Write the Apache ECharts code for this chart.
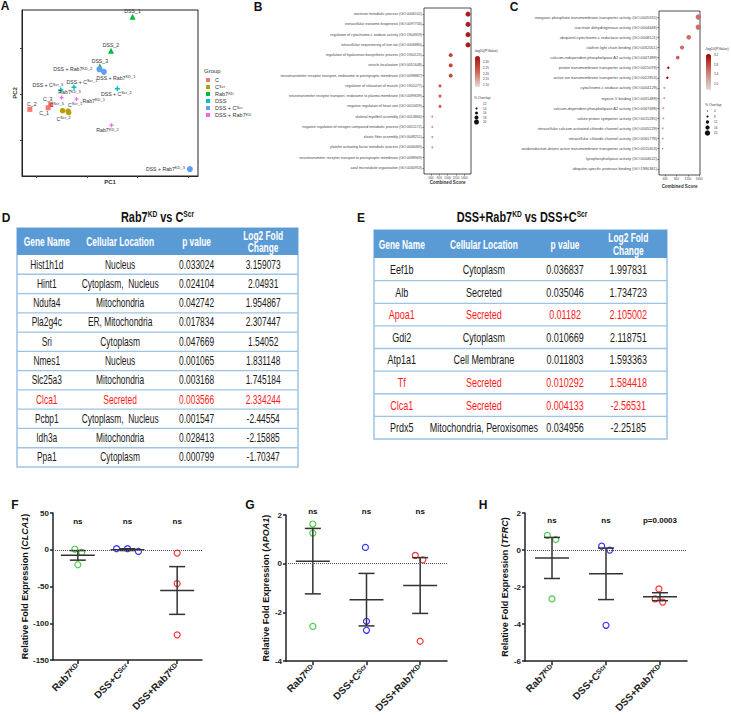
<!DOCTYPE html>
<html><head><meta charset="utf-8"><title>Rab7 figure</title>
<script src="https://cdn.jsdelivr.net/npm/echarts@6.0.0/dist/echarts.min.js"></script>
<style>html,body{margin:0;padding:0;background:#fff;}#chart{width:731px;height:715px;}</style>
</head><body><div id="chart"></div>
<script>
// ================= DATA =================
// ---- Panel A : PCA ----
const pcaGroups = ['C', 'C^Scr', 'Rab7^KD', 'DSS', 'DSS + C^Scr', 'DSS + Rab7^KD'];
const pcaC_labels = ['C_1', 'C_2', 'C_3'];
const pcaC_pc1 = [-15.3, -22.5, -14.3];
const pcaC_pc2 = [-6.0, -6.7, -4.5];
const pcaCScr_labels = ['C^Scr_1', 'C^Scr_2', 'C^Scr_3'];
const pcaCScr_pc1 = [-7.4, -7.2, -9.6];
const pcaCScr_pc2 = [-7.5, -8.1, -7.3];
const pcaRab7_labels = ['DSS_1', 'DSS_2', 'DSS_3'];
const pcaRab7_pc1 = [18.0, 9.5, 5.1];
const pcaRab7_pc2 = [33.6, 18.8, 11.9];
const pcaDSS_labels = ['DSS + C^Scr_1', 'DSS + C^Scr_2', 'DSS + C^Scr_3'];
const pcaDSS_pc1 = [-5.1, 12.0, -10.3];
const pcaDSS_pc2 = [2.9, 2.2, 1.7];
const pcaDSSCScr_labels = ['DSS + Rab7^KD_1', 'DSS + Rab7^KD_2', 'DSS + Rab7^KD_3'];
const pcaDSSCScr_pc1 = [6.7, 4.9, 40.6];
const pcaDSSCScr_pc2 = [9.6, 10.7, -32.7];
const pcaDSSRab7_labels = ['Rab7^KD_1', 'Rab7^KD_2', 'Rab7^KD_3'];
const pcaDSSRab7_pc1 = [-4.1, 9.7, -10.0];
const pcaDSSRab7_pc2 = [-2.2, -13.6, -1.6];
const pcaTicksX = [-20, 0, 20, 40];
const pcaTicksY = [-20, 0, 20];

// ---- Panel B : GO biological process ----
const goBP_terms = [
  'isocitrate metabolic process (GO:0006102)',
  'extracellular exosome biogenesis (GO:0097734)',
  'regulation of cytochrome-c oxidase activity (GO:1904959)',
  'intracellular sequestering of iron ion (GO:0006880)',
  'regulation of hyaluronan biosynthetic process (GO:1900125)',
  'vesicle localization (GO:0051648)',
  'neurotransmitter receptor transport, endosome to postsynaptic membrane (GO:0098887)',
  'regulation of relaxation of muscle (GO:1901077)',
  'neurotransmitter receptor transport, endosome to plasma membrane (GO:0099639)',
  'negative regulation of heart rate (GO:0010459)',
  'skeletal myofibril assembly (GO:0014866)',
  'negative regulation of nitrogen compound metabolic process (GO:0051172)',
  'elastic fiber assembly (GO:0048251)',
  'platelet activating factor metabolic process (GO:0046469)',
  'neurotransmitter receptor transport to postsynaptic membrane (GO:0098969)',
  'axial microtubule organization (GO:0030953)'
];
const goBP_score = [1488, 1488, 1488, 1488, 1073, 1073, 1073, 816, 816, 816, 631, 631, 631, 631, 456, 456];
const goBP_logp = [2.33, 2.33, 2.33, 2.33, 2.26, 2.26, 2.26, 2.22, 2.22, 2.22, 2.16, 2.16, 2.16, 2.16, 2.09, 2.09];
const goBP_overlap = [20, 20, 20, 20, 18, 18, 18, 16, 16, 16, 14, 14, 14, 14, 12, 12];
const goBP_xTicks = [600, 800, 1000, 1200, 1400];
const goBP_logpTicks = [2.30, 2.25, 2.20, 2.15, 2.10];
const goBP_overlapTicks = [12, 14, 16, 18, 20];

// ---- Panel C : GO molecular function ----
const goMF_terms = [
  'inorganic phosphate transmembrane transporter activity (GO:0005315)',
  'isocitrate dehydrogenase activity (GO:0004448)',
  'ubiquinol-cytochrome-c reductase activity (GO:0008121)',
  'clathrin light chain binding (GO:0032051)',
  'calcium-independent phospholipase A2 activity (GO:0047499)',
  'proton transmembrane transporter activity (GO:0015078)',
  'active ion transmembrane transporter activity (GO:0022853)',
  'cytochrome-c oxidase activity (GO:0004129)',
  'myosin V binding (GO:0031489)',
  'calcium-dependent phospholipase A2 activity (GO:0047498)',
  'solute:proton symporter activity (GO:0015295)',
  'intracellular calcium activated chloride channel activity (GO:0005229)',
  'intracellular chloride channel activity (GO:0061778)',
  'oxidoreduction-driven active transmembrane transporter activity (GO:0015453)',
  'lysophospholipase activity (GO:0004622)',
  'ubiquitin-specific protease binding (GO:1990381)'
];
const goMF_score = [1569, 1569, 1232, 997, 846, 516, 481, 375, 375, 341, 341, 319, 319, 319, 225, 225];
const goMF_logp = [2.55, 2.55, 2.55, 2.6, 2.65, 3.2, 3.2, 2.2, 2.2, 2.2, 2.2, 2.2, 2.2, 3.0, 1.9, 1.9];
const goMF_overlap = [20, 20, 17, 15, 14, 9, 9, 7, 7, 7, 7, 7, 7, 4, 2, 2];
const goMF_xTicks = [400, 800, 1200, 1600];
const goMF_logpTicks = [3.2, 2.8, 2.4, 2.0];
const goMF_overlapTicks = [4, 8, 12, 16, 20];

// ---- Panel D : table ----
const tableHeaders = ['Gene Name', 'Cellular Location', 'p value', 'Log2 Fold\nChange'];
const tableD_gene = ['Hist1h1d', 'Hint1', 'Ndufa4', 'Pla2g4c', 'Sri', 'Nmes1', 'Slc25a3', 'Clca1', 'Pcbp1', 'Idh3a', 'Ppa1'];
const tableD_location = ['Nucleus', 'Cytoplasm,  Nucleus', 'Mitochondria', 'ER, Mitochondria', 'Cytoplasm', 'Nucleus', 'Mitochondria', 'Secreted', 'Cytoplasm,  Nucleus', 'Mitochondria', 'Cytoplasm'];
const tableD_p = ['0.033024', '0.024104', '0.042742', '0.017834', '0.047669', '0.001065', '0.003168', '0.003566', '0.001547', '0.028413', '0.000799'];
const tableD_lfc = ['3.159073', '2.04931', '1.954867', '2.307447', '1.54052', '1.831148', '1.745184', '2.334244', '-2.44554', '-2.15885', '-1.70347'];
const tableD_highlight = [7];

// ---- Panel E : table ----
const tableE_gene = ['Eef1b', 'Alb', 'Apoa1', 'Gdi2', 'Atp1a1', 'Tf', 'Clca1', 'Prdx5'];
const tableE_location = ['Cytoplasm', 'Secreted', 'Secreted', 'Cytoplasm', 'Cell Membrane', 'Secreted', 'Secreted', 'Mitochondria, Peroxisomes'];
const tableE_p = ['0.036837', '0.035046', '0.01182', '0.010669', '0.011803', '0.010292', '0.004133', '0.034956'];
const tableE_lfc = ['1.997831', '1.734723', '2.105002', '2.118751', '1.593363', '1.584418', '-2.56531', '-2.25185'];
const tableE_highlight = [2, 5, 6];

// ---- Panels F, G, H : qPCR ----
const qCats = ['Rab7^KD', 'DSS+C^Scr', 'DSS+Rab7^KD'];
const F_rab7kd = [1.0, -3.5, -20.4];
const F_dssCscr = [1.4, 1.4, -2.3];
const F_dssRab7kd = [-4.5, -46.0, -115.8];
const F_jitter = [[-0.06, 0.08, 0], [-0.22, 0, 0.22], [0, 0, 0]];
const F_sig = ['ns', 'ns', 'ns'];
const G_rab7kd = [1.63, 1.26, -2.57];
const G_dssCscr = [0.67, -2.36, -2.73];
const G_dssRab7kd = [0.34, 0.16, -3.18];
const G_jitter = [[0, 0, 0], [-0.02, 0, 0], [-0.09, 0.05, 0]];
const G_sig = ['ns', 'ns', 'ns'];
const H_rab7kd = [0.79, 0.57, -2.64];
const H_dssCscr = [0.21, 0.0, -4.06];
const H_dssRab7kd = [-2.10, -2.64, -2.81];
const H_jitter = [[-0.085, 0.07, 0], [-0.08, 0.07, 0], [-0.02, -0.09, 0.05]];
const H_sig = ['ns', 'ns', 'p=0.0003'];

// ================= BUILD =================
const FONT = "'Liberation Sans', Arial, Helvetica, sans-serif";
const sup = t => t.replace(/\^(\S+)/g, '{s|$1}');
const chart = echarts.init(document.getElementById('chart'), null, { renderer: 'svg', width: 731, height: 715 });

const grids = [
  { left: 22, top: 10, width: 176, height: 166, show: true, borderColor: '#222', borderWidth: 1 },   // A
  { left: 424, top: 8, width: 47, height: 166, show: true, borderColor: '#222', borderWidth: 0.8 },  // B
  { left: 659, top: 11, width: 41, height: 164, show: true, borderColor: '#222', borderWidth: 0.8 }, // C
  { left: 17, top: 228, width: 281, height: 239, show: true, borderColor: '#9dc3e6', borderWidth: 1.5 }, // D
  { left: 374, top: 230, width: 293, height: 209, show: true, borderColor: '#9dc3e6', borderWidth: 1.5 }, // E
  { left: 53, top: 513, width: 149, height: 147 },  // F
  { left: 286, top: 515, width: 161, height: 147 }, // G
  { left: 525, top: 513, width: 162, height: 149 }  // H
];

const xAxes = [], yAxes = [], series = [], graphics = [];

// ---------- Panel A ----------
xAxes.push({ type: 'value', gridIndex: 0, min: -25.6, max: 43.8, splitLine: { show: false },
  axisLine: { show: true, onZero: false, lineStyle: { color: '#222', width: 1 } },
  axisTick: { show: true, customValues: pcaTicksX, length: 2, lineStyle: { color: '#444' } },
  axisLabel: { show: false },
  name: 'PC1', nameLocation: 'middle', nameGap: 3,
  nameTextStyle: { fontSize: 6, fontWeight: 'bold', color: '#333', fontFamily: FONT, verticalAlign: 'top' } });
yAxes.push({ type: 'value', gridIndex: 0, min: -35.7, max: 36.5, splitLine: { show: false },
  axisLine: { show: true, onZero: false, lineStyle: { color: '#222', width: 1 } },
  axisTick: { show: true, customValues: pcaTicksY, length: 2, lineStyle: { color: '#444' } },
  axisLabel: { show: false },
  name: 'PC2', nameLocation: 'middle', nameGap: 4,
  nameTextStyle: { fontSize: 6, fontWeight: 'bold', color: '#333', fontFamily: FONT } });

const pcaSets = [
  [pcaC_pc1, pcaC_pc2, pcaC_labels],
  [pcaCScr_pc1, pcaCScr_pc2, pcaCScr_labels],
  [pcaRab7_pc1, pcaRab7_pc2, pcaRab7_labels],
  [pcaDSS_pc1, pcaDSS_pc2, pcaDSS_labels],
  [pcaDSSCScr_pc1, pcaDSSCScr_pc2, pcaDSSCScr_labels],
  [pcaDSSRab7_pc1, pcaDSSRab7_pc2, pcaDSSRab7_labels]
];
const pcaColors = ['#F8766D', '#B79F00', '#00BA38', '#00BFC4', '#619CFF', '#F564E3'];
const plusPath = 'path://M3.5,0H6.5V3.5H10V6.5H6.5V10H3.5V6.5H0V3.5H3.5Z';
const pcaSymbols = ['rect', 'circle', 'triangle', plusPath, 'circle', plusPath];
const pcaSizes = [5, 5.5, 6, 5, 6, 4];
const pcaLabelPlace = {
  'C_1': ['bottom', -4, -1], 'C_2': ['top', 2, 1], 'C_3': ['top', -3, 1],
  'C^Scr_1': ['top', 7, 1], 'C^Scr_2': ['bottom', -5, -1], 'C^Scr_3': ['top', -6, 1],
  'DSS_1': ['top', 0, 2], 'DSS_2': ['top', 0, 2], 'DSS_3': ['top', 0, 2],
  'DSS + C^Scr_1': ['top', 8, 1], 'DSS + C^Scr_2': ['bottom', -1, -2], 'DSS + C^Scr_3': ['top', -13, 2],
  'DSS + Rab7^KD_1': ['bottom', 12, -1], 'DSS + Rab7^KD_2': ['left', -3, 0], 'DSS + Rab7^KD_3': ['left', -1, 0],
  'Rab7^KD_1': ['right', 3, 2], 'Rab7^KD_2': ['bottom', -4, -1], 'Rab7^KD_3': ['top', 8, 1]
};
const smallRich = { s: { fontSize: 4, verticalAlign: 'top', lineHeight: 4, fontFamily: FONT, color: '#333' } };
pcaSets.forEach((set, g) => {
  const [xs, ys, labs] = set;
  series.push({
    type: 'scatter', name: pcaGroups[g], xAxisIndex: 0, yAxisIndex: 0,
    symbol: pcaSymbols[g], symbolSize: pcaSizes[g], itemStyle: { color: pcaColors[g], opacity: 1 },
    data: xs.map((x, i) => {
      const pl = pcaLabelPlace[labs[i]] || ['top', 0, 0];
      return { name: labs[i], value: [x, ys[i]], label: { position: pl[0], offset: [pl[1], pl[2]] } };
    }),
    label: { show: true, distance: 1, fontSize: 5.2, lineHeight: 6.5, color: '#333', fontFamily: FONT,
      formatter: p => sup(p.name), rich: smallRich },
    z: 3
  });
});

// ---------- Panels B & C (GO dot plots) ----------
const sizeB = ov => (ov - 10) / 2;
const sizeC = ov => ov * 0.27;
function goAxes(gi, terms, xmin, xmax, xticks, labelSize, nameGap) {
  xAxes.push({ type: 'value', gridIndex: gi, min: xmin, max: xmax, splitLine: { show: false },
    axisLine: { show: false, onZero: false },
    axisTick: { show: true, customValues: xticks, length: 1.5, lineStyle: { color: '#333', width: 0.6 } },
    axisLabel: { customValues: xticks, formatter: v => String(v), fontSize: 3, color: '#444', margin: 2, fontFamily: FONT },
    name: 'Combined Score', nameLocation: 'middle', nameGap: nameGap,
    nameTextStyle: { fontSize: 4.5, fontWeight: 'bold', color: '#333', fontFamily: FONT } });
  const idx = terms.map((t, i) => i);
  yAxes.push({ type: 'value', gridIndex: gi, min: -0.6, max: terms.length - 0.4, inverse: true,
    splitLine: { show: false }, axisLine: { show: false, onZero: false },
    axisTick: { show: true, customValues: idx, length: 1.5, lineStyle: { color: '#333', width: 0.6 } },
    axisLabel: { customValues: idx, formatter: v => terms[v], fontSize: labelSize, color: '#444', margin: 2, fontFamily: FONT } });
}
goAxes(1, goBP_terms, 432, 1560, goBP_xTicks, 3.6, 6);
goAxes(2, goMF_terms, 189, 1628, goMF_xTicks, 3.9, 9);
const idxB = series.length;
series.push({ type: 'scatter', xAxisIndex: 1, yAxisIndex: 1,
  data: goBP_terms.map((t, i) => [goBP_score[i], i, goBP_logp[i], goBP_overlap[i]]),
  symbolSize: v => sizeB(v[3]), itemStyle: { opacity: 1 } });
const idxC = series.length;
series.push({ type: 'scatter', xAxisIndex: 2, yAxisIndex: 2,
  data: goMF_terms.map((t, i) => [goMF_score[i], i, goMF_logp[i], goMF_overlap[i]]),
  symbolSize: v => sizeC(v[3]), itemStyle: { opacity: 1 } });

const vmB = { left: 475, top: 56, w: 5, h: 31, min: 2.08, max: 2.35 };
const vmC = { left: 706, top: 54, w: 5, h: 36, min: 1.75, max: 3.22 };
const gradB = ['#e2e2e2', '#d06050', '#a50f15'];
const gradC = ['#dddddd', '#cf7a70', '#a80000'];
const visualMaps = [
  { type: 'continuous', seriesIndex: idxB, dimension: 2, min: vmB.min, max: vmB.max, inRange: { color: gradB },
    left: vmB.left, top: vmB.top, itemWidth: vmB.w, itemHeight: vmB.h, padding: 0, calculable: false, hoverLink: false, text: null,
    textStyle: { fontSize: 0.1, color: 'rgba(0,0,0,0)' } },
  { type: 'continuous', seriesIndex: idxC, dimension: 2, min: vmC.min, max: vmC.max, inRange: { color: gradC },
    left: vmC.left, top: vmC.top, itemWidth: vmC.w, itemHeight: vmC.h, padding: 0, calculable: false, hoverLink: false, text: null,
    textStyle: { fontSize: 0.1, color: 'rgba(0,0,0,0)' } }
];
function goLegend(vm, ticks, ovTicks, sizeFn, ovTop, ovStep, decimals) {
  const tx = { fontSize: 3.5, fill: '#333', fontFamily: FONT };
  graphics.push({ type: 'text', x: vm.left - 1, y: vm.top - 5, style: Object.assign({ text: '-log10(P.Value)', verticalAlign: 'middle' }, tx) });
  ticks.forEach(v => {
    const y = vm.top + (vm.max - v) / (vm.max - vm.min) * vm.h;
    graphics.push({ type: 'text', x: vm.left + vm.w + 3, y, style: Object.assign({ text: v.toFixed(decimals), verticalAlign: 'middle' }, tx, { fontSize: 3 }) });
    graphics.push({ type: 'line', shape: { x1: vm.left, y1: y, x2: vm.left + 1, y2: y }, style: { stroke: '#fff', lineWidth: 0.5 } });
  });
  graphics.push({ type: 'text', x: vm.left - 1, y: ovTop - 6, style: Object.assign({ text: '% Overlap', verticalAlign: 'middle' }, tx) });
  ovTicks.forEach((v, i) => {
    const y = ovTop + i * ovStep;
    graphics.push({ type: 'circle', shape: { cx: vm.left + 1.5, cy: y, r: sizeFn(v) / 2 }, style: { fill: '#111' } });
    graphics.push({ type: 'text', x: vm.left + vm.w + 3, y, style: Object.assign({ text: String(v), verticalAlign: 'middle' }, tx, { fontSize: 3 }) });
  });
}
goLegend(vmB, goBP_logpTicks, goBP_overlapTicks, sizeB, 104, 4.5, 2);
goLegend(vmC, goMF_logpTicks, goMF_overlapTicks, sizeC, 111, 5.5, 1);

// ---------- Tables D & E ----------
function addTable(gi, cols, highlight, centers, fontSize, sx, headerSize, headerSx, headerUnits) {
  const nRows = cols[0].length;
  xAxes.push({ type: 'value', gridIndex: gi, min: 0, max: 100, show: false });
  yAxes.push({ type: 'value', gridIndex: gi, min: -headerUnits, max: nRows, inverse: true, show: false });
  const axisIdx = xAxes.length - 1;
  series.push({ type: 'custom', xAxisIndex: axisIdx, yAxisIndex: axisIdx, silent: true,
    data: tableHeaders.map((h, c) => [c]),
    renderItem: (params, api) => {
      const c = api.value(0);
      const children = [];
      if (c === 0) {
        const a = api.coord([0, -headerUnits]), b = api.coord([100, 0]);
        children.push({ type: 'rect', shape: { x: a[0], y: a[1], width: b[0] - a[0], height: b[1] - a[1] }, style: { fill: '#5b9bd5' } });
      }
      const p = api.coord([centers[c], -headerUnits / 2]);
      children.push({ type: 'text', x: p[0], y: p[1], scaleX: headerSx, style: { text: tableHeaders[c], fill: '#ffffff', fontSize: headerSize, fontWeight: 'bold', fontFamily: FONT, align: 'center', verticalAlign: 'middle', lineHeight: headerSize } });
      return { type: 'group', children };
    } });
  const cells = [];
  for (let r = 0; r < nRows; r++) for (let c = 0; c < cols.length; c++) cells.push([c, r]);
  series.push({ type: 'custom', xAxisIndex: axisIdx, yAxisIndex: axisIdx, silent: true, data: cells,
    renderItem: (params, api) => {
      const c = api.value(0), r = api.value(1);
      const children = [];
      if (c === 0 && r < nRows - 1) {
        const a = api.coord([0, r + 1]), b = api.coord([100, r + 1]);
        children.push({ type: 'line', shape: { x1: a[0], y1: a[1], x2: b[0], y2: b[1] }, style: { stroke: '#9dc3e6', lineWidth: 1.3 } });
      }
      const p = api.coord([centers[c], r + 0.5]);
      children.push({ type: 'text', x: p[0], y: p[1], scaleX: sx, style: { text: cols[c][r], fill: highlight.includes(r) ? '#ff1a1a' : '#1a1a1a', fontSize, fontFamily: FONT, align: 'center', verticalAlign: 'middle' } });
      return { type: 'group', children };
    } });
}
addTable(3, [tableD_gene, tableD_location, tableD_p, tableD_lfc], tableD_highlight, [10.6, 36.7, 63.9, 87.6], 12, 0.70, 12.5, 0.67, 1.4);
addTable(4, [tableE_gene, tableE_location, tableE_p, tableE_lfc], tableE_highlight, [9.5, 37.5, 65.2, 86.8], 12.5, 0.72, 12.5, 0.67, 1.24);

// ---------- Panels F, G, H ----------
const qColors = ['#1fbf1f', '#0000ff', '#ff0000'];
function stats(arr) {
  const n = arr.length, m = arr.reduce((a, b) => a + b, 0) / n;
  const sd = Math.sqrt(arr.reduce((a, b) => a + (b - m) * (b - m), 0) / (n - 1));
  return [m, sd / Math.sqrt(n)];
}
function addQpcr(gi, groups, jitter, sig, yMin, yMax, interval, gene, nameGap, sigDy) {
  xAxes.push({ type: 'value', gridIndex: gi, min: -0.5, max: 2.5, splitLine: { show: false },
    axisLine: { show: true, onZero: false, lineStyle: { color: '#222', width: 1.5 } },
    axisTick: { show: true, customValues: [0, 1, 2], length: 4, lineStyle: { color: '#222', width: 1.5 } },
    axisLabel: { customValues: [0, 1, 2], rotate: 45, margin: 5, formatter: v => sup(qCats[v]),
      fontSize: 10, fontWeight: 'bold', color: '#222', fontFamily: FONT,
      rich: { s: { fontSize: 7, fontWeight: 'bold', verticalAlign: 'top', lineHeight: 7, color: '#222', fontFamily: FONT } } } });
  yAxes.push({ type: 'value', gridIndex: gi, min: yMin, max: yMax, interval, splitLine: { show: false },
    axisLine: { show: true, onZero: false, lineStyle: { color: '#222', width: 1.5 } },
    axisTick: { show: true, length: 3, lineStyle: { color: '#222', width: 1.5 } },
    axisLabel: { fontSize: 8, fontWeight: 'bold', color: '#222', margin: 4, fontFamily: FONT },
    name: 'Relative Fold Expression ({i|' + gene + '})', nameLocation: 'middle', nameGap,
    nameTextStyle: { fontSize: 9, fontWeight: 'bold', color: '#111', fontFamily: FONT,
      rich: { i: { fontSize: 9, fontWeight: 'bold', fontStyle: 'italic', color: '#111', fontFamily: FONT } } } });
  const ai = xAxes.length - 1;
  series.push({ type: 'scatter', xAxisIndex: ai, yAxisIndex: ai, symbol: 'circle', symbolSize: 6, silent: true,
    data: groups.flatMap((arr, i) => arr.map((v, k) => ({ value: [i + jitter[i][k], v],
      itemStyle: { color: 'rgba(255,255,255,0)', borderColor: qColors[i], borderWidth: 1.2 } }))),
    markLine: { silent: true, symbol: 'none', label: { show: false },
      lineStyle: { type: 'dotted', color: '#555', width: 1 }, data: [{ yAxis: 0 }] }, z: 3 });
  series.push({ type: 'custom', xAxisIndex: ai, yAxisIndex: ai, silent: true, z: 4,
    data: groups.map((arr, i) => [i].concat(stats(arr))),
    renderItem: (params, api) => {
      const i = api.value(0), m = api.value(1), se = api.value(2);
      const c = api.coord([i, m]), t = api.coord([i, m + se]), b = api.coord([i, m - se]);
      const st = { stroke: '#333', lineWidth: 1.5 };
      const L = (x1, y1, x2, y2) => ({ type: 'line', shape: { x1, y1, x2, y2 }, style: st });
      const s = api.coord([i, yMax]);
      return { type: 'group', children: [
        L(c[0], t[1], c[0], b[1]),
        L(c[0] - 17, c[1], c[0] + 17, c[1]),
        L(c[0] - 8, t[1], c[0] + 8, t[1]),
        L(c[0] - 8, b[1], c[0] + 8, b[1]),
        { type: 'text', x: s[0], y: s[1] + sigDy, style: { text: sig[i], fill: '#111', fontSize: 8, fontWeight: 'bold', fontFamily: FONT, align: 'center', verticalAlign: 'middle' } }
      ] };
    } });
}
addQpcr(5, [F_rab7kd, F_dssCscr, F_dssRab7kd], F_jitter, F_sig, -150, 50, 50, 'CLCA1', 23, 8);
addQpcr(6, [G_rab7kd, G_dssCscr, G_dssRab7kd], G_jitter, G_sig, -4, 2, 2, 'APOA1', 15, -4);
addQpcr(7, [H_rab7kd, H_dssCscr, H_dssRab7kd], H_jitter, H_sig, -6, 2, 2, 'TFRC', 15, 7);

// ---------- Texts: panel letters, titles, legend title ----------
const letterStyle = { fontSize: 12, fontWeight: 'bold', fill: '#111', fontFamily: FONT, align: 'center', verticalAlign: 'middle' };
[['A', 5, 6], ['B', 258, 7], ['C', 514, 7], ['D', 6, 218], ['E', 361, 218], ['F', 15, 505], ['G', 250, 505], ['H', 483, 505]]
  .forEach(([t, x, y]) => graphics.push({ type: 'text', x, y, style: Object.assign({ text: t }, letterStyle) }));
const titleRich = { s: { fontSize: 8.5, fontWeight: 'bold', verticalAlign: 'top', lineHeight: 8, fontFamily: FONT, fill: '#111' } };
graphics.push({ type: 'text', x: 157.5, y: 218, scaleX: 0.78, style: { text: sup('Rab7^KD vs C^Scr'), rich: titleRich, fontSize: 14, lineHeight: 16, fontWeight: 'bold', fontFamily: FONT, fill: '#111', align: 'center', verticalAlign: 'middle' } });
graphics.push({ type: 'text', x: 522, y: 218, scaleX: 0.78, style: { text: sup('DSS+Rab7^KD vs DSS+C^Scr'), rich: titleRich, fontSize: 14, lineHeight: 16, fontWeight: 'bold', fontFamily: FONT, fill: '#111', align: 'center', verticalAlign: 'middle' } });
graphics.push({ type: 'text', x: 204, y: 71, style: { text: 'Group', fontSize: 6, fill: '#333', fontFamily: FONT, verticalAlign: 'middle' } });

chart.setOption({
  backgroundColor: '#ffffff',
  animation: false,
  textStyle: { fontFamily: FONT },
  grid: grids,
  xAxis: xAxes,
  yAxis: yAxes,
  visualMap: visualMaps,
  legend: { show: true, orient: 'vertical', left: 206, top: 77, padding: 0, itemWidth: 4, itemHeight: 4, itemGap: 1,
    icon: 'rect', selectedMode: false, data: pcaGroups, formatter: n => sup(n),
    textStyle: { fontSize: 5.5, lineHeight: 6, color: '#333', fontFamily: FONT, rich: smallRich } },
  series,
  graphic: { elements: graphics }
});
</script></body></html>
